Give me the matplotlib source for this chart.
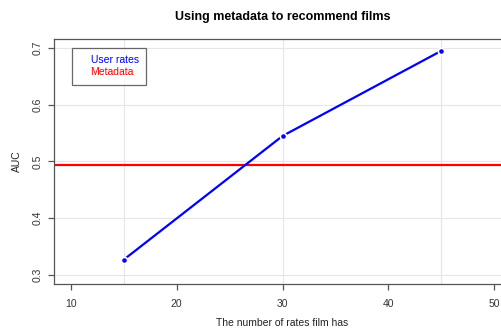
import matplotlib.pyplot as plt
import numpy as np

# data
n_rates = [15, 30, 45]
auc_user = [0.327, 0.545, 0.695]
auc_meta = 0.493

x_ticks = [10, 20, 30, 40, 50]
y_ticks = [0.3, 0.4, 0.5, 0.6, 0.7]

plt.rcParams['font.family'] = ['Liberation Sans', 'DejaVu Sans']

fig = plt.figure(figsize=(5.02, 3.29), dpi=100)
ax = fig.add_axes([0.1076, 0.1368, 0.9104, 0.7447])

axcol = '#555555'

# grid at data points and y ticks
for x in n_rates:
    ax.axvline(x, color='#e6e6e6', lw=0.8, zorder=0)
for y in y_ticks:
    ax.axhline(y, color='#e6e6e6', lw=0.8, zorder=0)

ax.axhline(auc_meta, color='red', lw=1.6, zorder=2)
ax.plot(n_rates, auc_user, '-', color='blue', lw=1.6, zorder=3)
ax.plot(n_rates, auc_user, 'o', color='blue', ms=4.5,
        mec='white', mew=1.2, zorder=4)

ax.set_xlim(8.4, 51.6)
ax.set_ylim(0.284, 0.716)
ax.set_xticks(x_ticks)
ax.set_yticks(y_ticks)
ax.set_yticklabels([str(v) for v in y_ticks], rotation=90, va='center')

for s in ax.spines.values():
    s.set_color(axcol)
    s.set_linewidth(0.9)
ax.tick_params(colors='#333333', labelsize=7.5, length=4, width=0.9,
               direction='out', color=axcol)
ax.tick_params(axis='x', pad=7)
ax.tick_params(axis='y', pad=4)

ax.set_xlabel('The number of rates film has', fontsize=7.5, color='#222222', labelpad=6)
ax.set_ylabel('AUC', fontsize=7.5, color='#222222', labelpad=8)
fig.suptitle('Using metadata to recommend films', fontsize=9, fontweight='bold',
             x=0.5625, y=0.968)

# legend: text only, coloured
leg = ax.legend(handles=[plt.Line2D([], [], color='none'), plt.Line2D([], [], color='none')],
                labels=['User rates', 'Metadata'], loc='upper left',
                bbox_to_anchor=(0.04, 0.965), fontsize=7.5, frameon=True,
                fancybox=False, edgecolor='#444444', handlelength=0.6,
                handletextpad=0.4, borderpad=0.75, labelspacing=0.15,
                borderaxespad=0)
leg.get_frame().set_linewidth(0.9)
for t, c in zip(leg.get_texts(), ['blue', 'red']):
    t.set_color(c)

plt.savefig('out.png', dpi=100)
